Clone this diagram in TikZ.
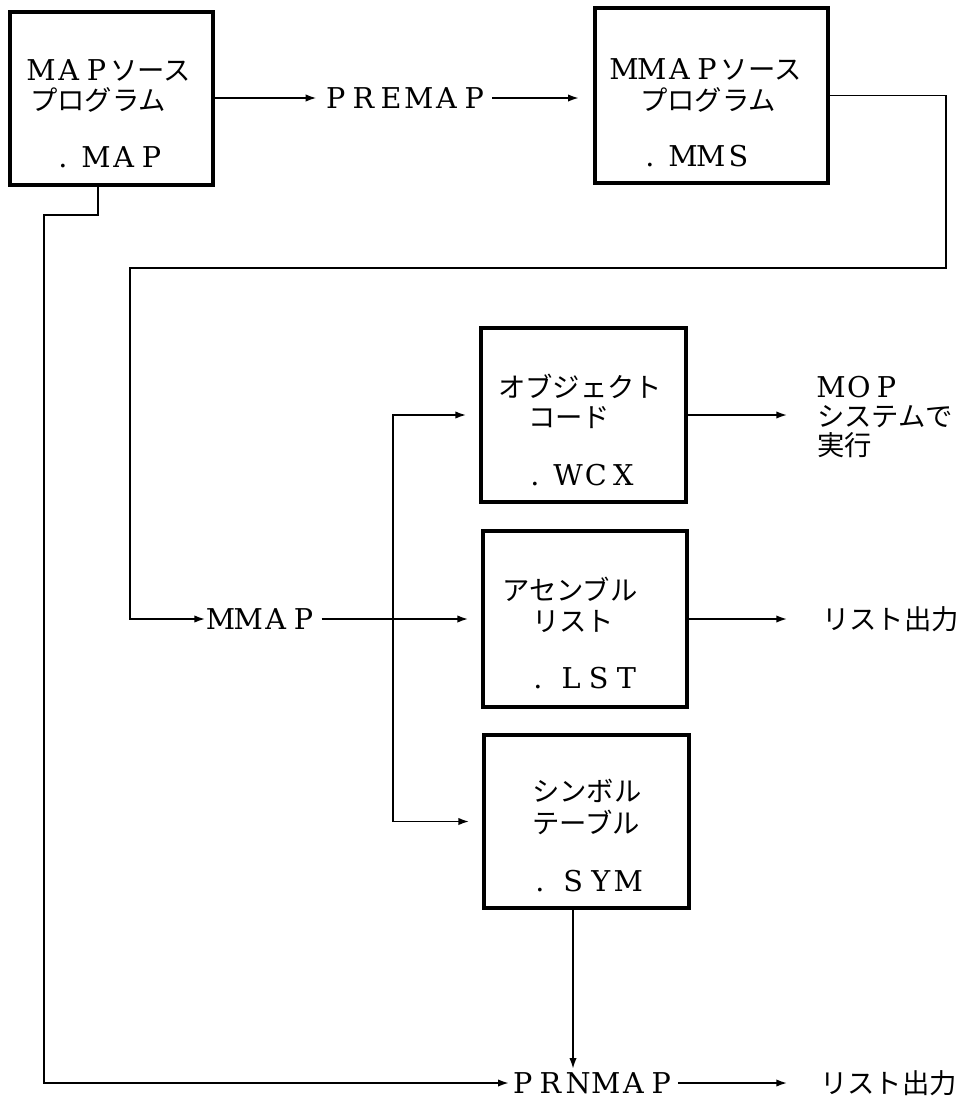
\documentclass[tikz,border=0pt]{standalone}
\usepackage{fontspec}
\setmainfont{DejaVu Serif}
\newfontfamily\jpfont{Noto Sans CJK JP}
\usetikzlibrary{arrows.meta}
\newlength\fwcw
\setlength\fwcw{20.75pt}
\def\fwtxt#1{\fwloop#1\relax}
\def\fwloop#1{\ifx#1\relax\else\makebox[\fwcw]{#1}\expandafter\fwloop\fi}
\def\J{\jpfont\fontsize{20.5}{26}\selectfont}
\def\dotp{\makebox[18pt][l]{.}}
\begin{document}
\begin{tikzpicture}[x=0.75pt,y=-0.75pt,
  box/.style={draw,line width=2.4pt,inner sep=0pt},
  txt/.style={inner sep=0pt,text height=15pt,text depth=0pt,font=\fontsize{21.5}{26}\selectfont},
  mtxt/.style={inner sep=0pt,align=left,font=\fontsize{21.5}{21.75}\selectfont},
  conn/.style={line width=1.2pt},
  arr/.style={conn,-{Latex[length=8pt,width=5.5pt]}}]
\fill[white] (0,0) rectangle (973,1100);
\useasboundingbox (0,0) rectangle (973,1100);

% boxes
\node[box,minimum width=152.25pt,minimum height=129.75pt] (mapbox) at (111.5,98.5) {};
\node[box,minimum width=174.75pt,minimum height=131.25pt] (mmsbox) at (711.5,95.5) {};
\node[box,minimum width=153.75pt,minimum height=130.5pt] (wcxbox) at (583.5,415) {};
\node[box,minimum width=153pt,minimum height=132pt] (lstbox) at (585,619) {};
\node[box,minimum width=153.75pt,minimum height=129.75pt] (symbox) at (586.5,821.5) {};

% box texts
\node[txt,anchor=west] (map1) at (27,70) {\fwtxt{MAP}{\J ソース}};
\node[txt,anchor=west] (map2) at (30,100) {\J プログラム};
\node[txt,anchor=west] (map3) at (58,157) {\dotp\fwtxt{MAP}};

\node[txt,anchor=west] (mms1) at (610,69) {\fwtxt{MMAP}{\J ソース}};
\node[txt,anchor=west] (mms2) at (640,100) {\J プログラム};
\node[txt,anchor=west] (mms3) at (645,156) {\dotp\fwtxt{MMS}};

\node[txt,anchor=west] (wcx1) at (498,387) {\J オブジェクト};
\node[txt,anchor=west] (wcx2) at (528,417) {\J コード};
\node[txt,anchor=west] (wcx3) at (530,475) {\dotp\fwtxt{WCX}};

\node[txt,anchor=west] (lst1) at (502,590) {\J アセンブル};
\node[txt,anchor=west] (lst2) at (532,621) {\J リスト};
\node[txt,anchor=west] (lst3) at (533,678) {\dotp\fwtxt{LST}};

\node[txt,anchor=west] (sym1) at (532,791) {\J シンボル};
\node[txt,anchor=west] (sym2) at (532,823) {\J テーブル};
\node[txt,anchor=west] (sym3) at (535,881) {\dotp\fwtxt{SYM}};

% process labels
\node[txt] (premap) at (405,98) {\fwtxt{PREMAP}};
\node[txt] (mmap) at (262,619) {\fwtxt{MMAP}};
\node[txt] (prnmap) at (592,1083) {\fwtxt{PRNMAP}};

% outputs
\node[mtxt,anchor=west] (mop) at (817,417) {\fwtxt{MOP}\\{\J システムで}\\{\J 実行}};
\node[txt,anchor=west] (lout) at (822,619) {\J リスト出力};
\node[txt,anchor=west] (pout) at (820,1083) {\J リスト出力};

% helper coordinates
\coordinate (r1) at (946,268);
\coordinate (l1) at (130,268);
\coordinate (bx) at (393,0);
\coordinate (tipx) at (787,0);
\coordinate (dn) at (573,0);
\coordinate (ml) at (98,215);
\coordinate (ll) at (44,215);

% connectors
\draw[arr,shorten >=4pt] (mapbox.east |- premap) -- (premap.west);
\draw[arr,shorten <=3pt,shorten >=11pt] (premap.east) -- (mmsbox.west |- premap);
\draw[arr,shorten >=1pt] (mmsbox.east) -- (mmsbox.east -| r1) -- (r1) -- (l1) -- (l1 |- mmap) -- (mmap.west);
\draw[arr,shorten <=3pt,shorten >=10pt] (mmap.east) -- (lstbox.west |- mmap);
\draw[arr,shorten >=10pt] (bx |- symbox.west) -- (bx |- wcxbox.west) -- (wcxbox.west);
\draw[arr,shorten >=10pt] (bx |- symbox.west) -- (symbox.west);
\draw[arr] (wcxbox.east) -- (wcxbox.east -| tipx);
\draw[arr] (lstbox.east) -- (lstbox.east -| tipx);
\draw[arr,shorten >=3pt] (dn |- symbox.south) -- (dn |- prnmap.north);
\draw[arr] (ml |- mapbox.south) -- (ml) -- (ll) -- (ll |- prnmap) -- (prnmap.west);
\draw[arr,shorten <=2pt] (prnmap.east) -- (prnmap.east -| tipx);
\end{tikzpicture}
\end{document}
